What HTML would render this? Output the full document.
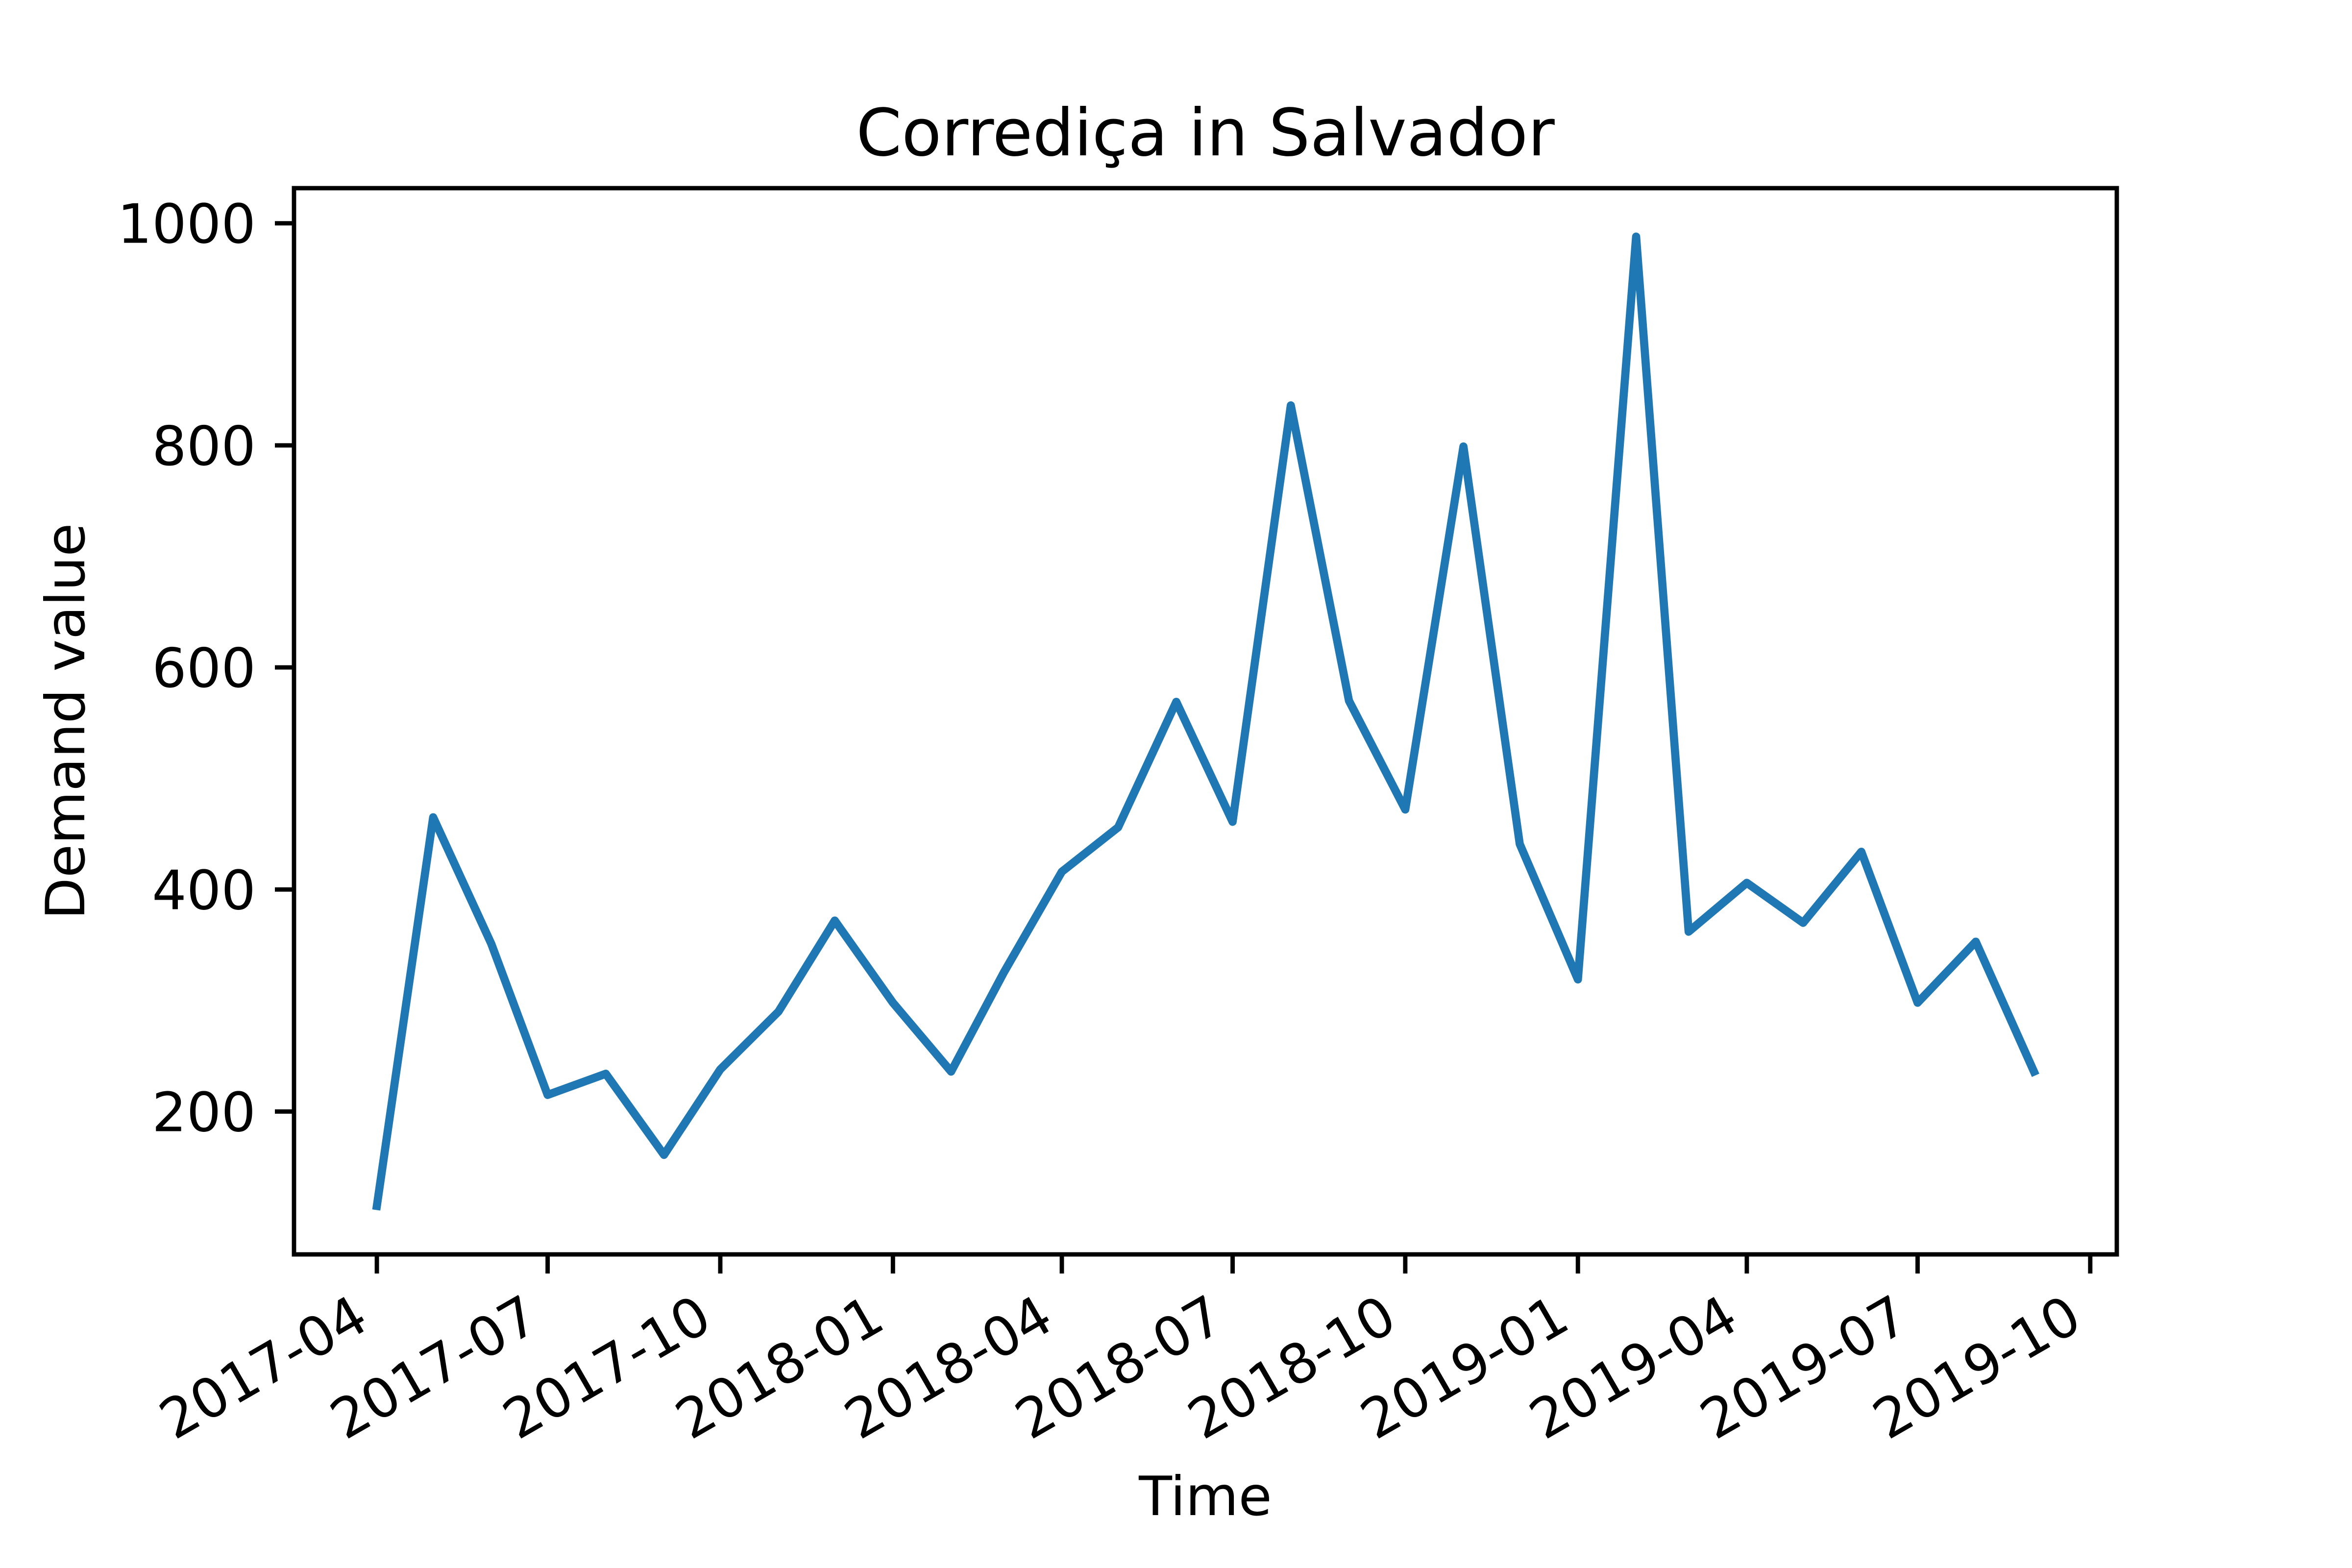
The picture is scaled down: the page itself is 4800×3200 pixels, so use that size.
<!DOCTYPE html>
<html><head><meta charset="utf-8"><style>
html,body{margin:0;padding:0;background:#fff;}
svg{display:block;font-family:"DejaVu Sans","Liberation Sans",sans-serif;}
</style></head><body>
<svg id="chart" width="4800" height="3200" viewBox="0 0 4800 3200" xmlns="http://www.w3.org/2000/svg">
<rect width="4800" height="3200" fill="#fff"/>
<text x="2460" y="317" font-size="133" text-anchor="middle">Corrediça in Salvador</text>
<g id="plot"></g>
<text x="2460" y="3092" font-size="111" text-anchor="middle">Time</text>
<text transform="translate(172,1472) rotate(-90)" font-size="111" text-anchor="middle">Demand value</text>
</svg>
<script>
const months = ["2017-04","2017-05","2017-06","2017-07","2017-08","2017-09","2017-10","2017-11","2017-12","2018-01","2018-02","2018-03","2018-04","2018-05","2018-06","2018-07","2018-08","2018-09","2018-10","2018-11","2018-12","2019-01","2019-02","2019-03","2019-04","2019-05","2019-06","2019-07","2019-08","2019-09"];
const demand = [115,465,351,215,234,161,238,290,372,298,236,325,416,456,569,461,836,570,472,799,441,319,988,362,406,370,434,298,353,236];
const yTicks = [200,400,600,800,1000];
const xTickLabels = ["2017-04","2017-07","2017-10","2018-01","2018-04","2018-07","2018-10","2019-01","2019-04","2019-07","2019-10"];

const NS="http://www.w3.org/2000/svg";
const L=600,R=4320,T=384,B=2560;
function toDay(s){const p=s.split("-");return Date.UTC(+p[0],+p[1]-1,1)/86400000;}
const d0=toDay(months[0]),d1=toDay(months[months.length-1]);
const span=d1-d0, xmin=d0-span*0.05, xmax=d1+span*0.05;
const vmin=Math.min(...demand),vmax=Math.max(...demand),vr=vmax-vmin;
const ymin=vmin-vr*0.05,ymax=vmax+vr*0.05;
function X(s){return L+(toDay(s)-xmin)/(xmax-xmin)*(R-L);}
function Y(v){return B-(v-ymin)/(ymax-ymin)*(B-T);}
const g=document.getElementById("plot");
function mk(tag,attrs){const e=document.createElementNS(NS,tag);for(const k in attrs)e.setAttribute(k,attrs[k]);g.appendChild(e);return e;}

const pts=months.map((m,i)=>X(m).toFixed(1)+","+Y(demand[i]).toFixed(1)).join(" ");
const line=mk("polyline",{points:pts,fill:"none",stroke:"#1f77b4","stroke-width":16.7,"stroke-linejoin":"round","stroke-linecap":"square"});



yTicks.forEach(v=>{
  const y=Y(v);
  const t=mk("line",{x1:L-39,x2:L,y1:y,y2:y,stroke:"#000","stroke-width":8.9});
  
  
  const lb=mk("text",{x:L-78,y:y+40,"font-size":111,"text-anchor":"end"});
  lb.textContent=String(v);
  
  
});
xTickLabels.forEach(s=>{
  const x=X(s);
  const t=mk("line",{x1:x,x2:x,y1:B,y2:B+39,stroke:"#000","stroke-width":8.9});
  
  
  const lb=mk("text",{transform:"translate("+(x-11.5)+","+(B+78+70)+") rotate(-30)","font-size":111,"text-anchor":"end"});
  lb.textContent=s;
  
  
});
const frame=mk("rect",{x:L,y:T,width:R-L,height:B-T,fill:"none",stroke:"#000","stroke-width":8.9});


</script>
</body></html>
